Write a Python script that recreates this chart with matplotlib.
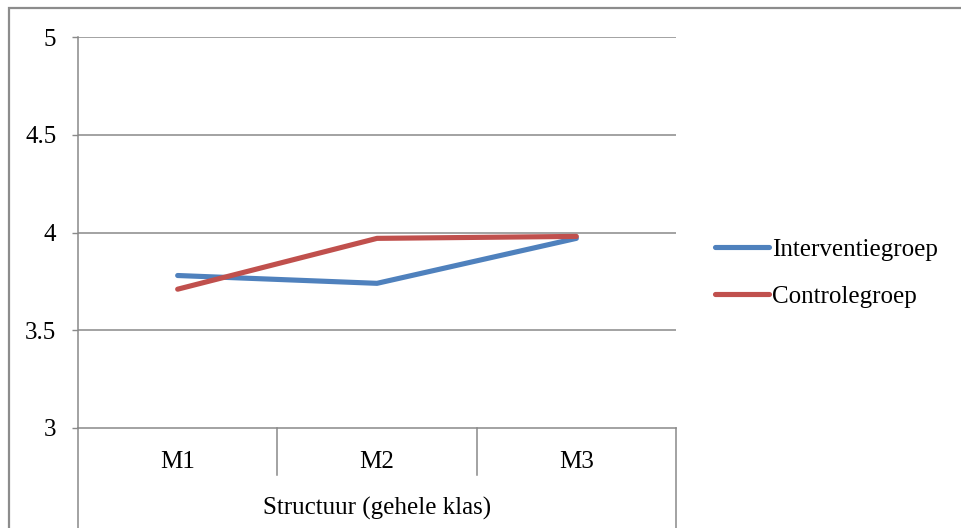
import matplotlib
matplotlib.use("Agg")
import matplotlib.pyplot as plt
from matplotlib.patches import Rectangle

categories = ["M1", "M2", "M3"]
group_label = "Structuur (gehele klas)"
interventie = [3.78, 3.74, 3.97]
controle = [3.71, 3.97, 3.98]
series_names = ["Interventiegroep", "Controlegroep"]
yticks = [3, 3.5, 4, 4.5, 5]

plt.rcParams['font.family'] = ['Liberation Serif', 'DejaVu Serif']
FS = 18
grid_c = '#898989'

fig = plt.figure(figsize=(9.62, 5.28), dpi=100)
ax = fig.add_axes([78/962, 1-428/528, (676-78)/962, (428-37)/528])

x = list(range(len(categories)))
ax.plot(x, interventie, color='#4F81BD', lw=3.7, solid_capstyle='round', label=series_names[0], zorder=3)
ax.plot(x, controle, color='#C0504D', lw=3.7, solid_capstyle='round', label=series_names[1], zorder=3)

ax.set_xlim(-0.5, len(categories) - 0.5)
ax.set_ylim(3, 5)
ax.set_yticks(yticks)
ax.set_yticklabels([f"{t:g}" for t in yticks], fontsize=FS)
ax.tick_params(axis='y', length=4.5, width=1, color=grid_c, pad=11)
ax.set_xticks([])
for t in yticks[1:]:
    ax.axhline(t, color=grid_c, lw=1.1, zorder=1)
for s in ['top', 'right']:
    ax.spines[s].set_visible(False)
for s in ['left', 'bottom']:
    ax.spines[s].set_color(grid_c)
    ax.spines[s].set_linewidth(1.1)

trans = ax.get_xaxis_transform()
# category separators
for i in range(len(categories) + 1):
    xb = i - 0.5
    bottom = -0.3 if i in (0, len(categories)) else -0.12
    ax.plot([xb, xb], [0, bottom], transform=trans, color=grid_c, lw=1.1, clip_on=False)
for i, c in enumerate(categories):
    ax.text(i, -0.087, c, transform=trans, ha='center', va='center', fontsize=FS)
ax.text((len(categories) - 1) / 2, -0.205, group_label, transform=trans, ha='center', va='center', fontsize=FS)

leg = fig.legend(loc='center left', bbox_to_anchor=(693/962, 1 - 273/528), frameon=False,
                 fontsize=FS, handlelength=2.15, handletextpad=0.12, labelspacing=0.97)

fig.patches.append(Rectangle((8.5/962, -0.1), 2, 1 - 8.5/528 + 0.1, transform=fig.transFigure,
                             fill=False, edgecolor='#8c8c8c', lw=1.6))

fig.savefig("out.png", dpi=100)
